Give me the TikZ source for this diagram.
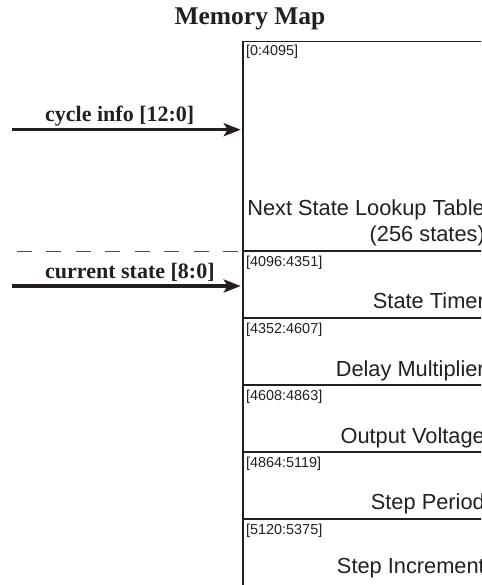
\documentclass[tikz,border=0pt]{standalone}
\usepackage{fontspec}
\setmainfont{Liberation Serif}
\newfontfamily\mapsans{Liberation Sans}
\usetikzlibrary{arrows.meta}

\definecolor{ink}{HTML}{231F20}

\tikzset{
  mapbox/.style={draw=ink, line width=1.8pt, inner sep=0pt},
  divider/.style={draw=ink, line width=1.8pt},
  rangelabel/.style={text=ink, inner sep=0pt, anchor=base west,
    font=\mapsans\fontsize{14.4}{16}\selectfont},
  fieldname/.style={text=ink, inner sep=0pt, anchor=base east,
    font=\mapsans\fontsize{21.8}{25}\selectfont},
  buslabel/.style={text=ink, inner sep=0pt, anchor=base west,
    font=\bfseries\fontsize{22}{26}\selectfont},
  busarrow/.style={draw=ink, line width=3.3pt,
    -{Stealth[length=17pt, width=13pt, inset=4pt]}, shorten >=1pt},
  boundary/.style={draw=ink!80, line width=1pt, dash pattern=on 15pt off 14.5pt}
}

\begin{document}
\begin{tikzpicture}[x=1pt, y=-1pt]
\useasboundingbox (0,0) rectangle (481,585);
\clip (0,0) rectangle (481,585);

% title
\node[text=ink, inner sep=0pt, anchor=base, font=\bfseries\fontsize{25.5}{30}\selectfont]
  (title) at (250,25) {Memory Map};

% memory block (runs past the right and bottom edges)
\node[mapbox, minimum width=270pt, minimum height=560pt, anchor=north west]
  (map) at (241.7,40.7) {};

% first region: next state table
\node[rangelabel] (range1) at (246,56) {[0:4095]};
\node[fieldname] (name1a) at (485,215) {Next State Lookup Table};
\node[fieldname] (name1b) at (485,241.7) {(256 states)};

% remaining 256-word regions
\foreach \top/\range/\title/\base [count=\k from 2] in {
    251/{[4096:4351]}/{State Timer}/308.4,
    317.7/{[4352:4607]}/{Delay Multiplier}/376,
    385/{[4608:4863]}/{Output Voltage}/443.3,
    452/{[4864:5119]}/{Step Period}/509.6,
    519/{[5120:5375]}/{Step Increment}/573.3} {
  \coordinate (div\k) at (241.7,\top);
  \draw[divider] (div\k) -- ++(270,0);
  \node[rangelabel] (range\k) at (246,\top+15.5) {\range};
  \node[fieldname] (name\k) at (485,\base) {\title};
}

% boundary between lookup address spaces
\coordinate (dashstart) at (16.7,251.3);
\draw[boundary] (dashstart) -- (dashstart -| map.west);

% input buses
\node[buslabel] (cyclelabel) at (45,122) {cycle info [12:0]};
\coordinate (cyclein) at (12,129.7);
\draw[busarrow] (cyclein) -- (cyclein -| map.west);

\node[buslabel] (statelabel) at (45,278.5) {current state [8:0]};
\coordinate (statein) at (12,286);
\draw[busarrow] (statein) -- (statein -| map.west);
\end{tikzpicture}
\end{document}
